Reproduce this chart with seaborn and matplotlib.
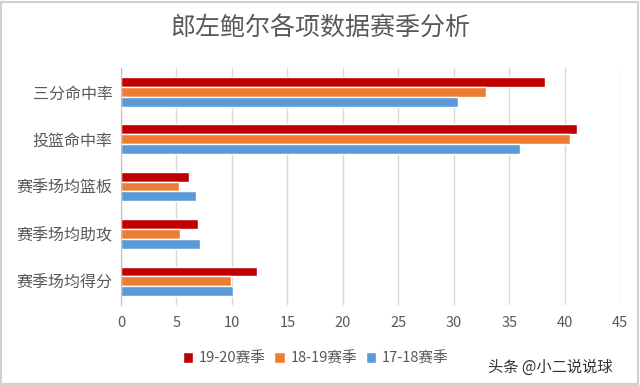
import matplotlib
matplotlib.use('Agg')
import matplotlib.pyplot as plt
import seaborn as sns
import pandas as pd
from matplotlib.patches import Rectangle

categories = ['三分命中率', '投篮命中率', '赛季场均篮板', '赛季场均助攻', '赛季场均得分']
seasons = ['19-20赛季', '18-19赛季', '17-18赛季']
s1920 = [38.2, 41.1, 6.1, 6.9, 12.3]
s1819 = [32.9, 40.5, 5.2, 5.3, 9.9]
s1718 = [30.4, 36.0, 6.8, 7.1, 10.1]
colors = ['#C00000', '#ED7D31', '#5B9BD5']
xticks = [0, 5, 10, 15, 20, 25, 30, 35, 40, 45]

rows = []
for season, vals in zip(seasons, [s1920, s1819, s1718]):
    for cat, v in zip(categories, vals):
        rows.append({'cat': cat, 'season': season, 'value': v})
df = pd.DataFrame(rows)

sns.set_style('white')
plt.rcParams['font.family'] = ['Noto Sans CJK SC', 'DejaVu Sans']

fig = plt.figure(figsize=(6.4, 3.85), dpi=100)
ax = fig.add_axes([0.189, 0.208, 0.78, 0.615])

sns.barplot(data=df, x='value', y='cat', hue='season', order=categories,
            hue_order=seasons, palette=colors, saturation=1, orient='h',
            width=0.62, gap=0, ax=ax, legend=True)

ax.set_xlim(0, 45)
ax.set_xticks(xticks)
ax.xaxis.grid(True, color='#D9D9D9', linewidth=1)
ax.set_axisbelow(True)
for s in ['top', 'right', 'bottom']:
    ax.spines[s].set_visible(False)
ax.spines['left'].set_color('#BFBFBF')
ax.set_xlabel('')
ax.set_ylabel('')
ax.tick_params(axis='both', length=0, colors='#595959')
ax.tick_params(axis='x', pad=8, labelsize=10.5)
ax.tick_params(axis='y', pad=6, labelsize=11.5)

ax.legend(loc='upper center', bbox_to_anchor=(0.39, -0.14), ncol=3, frameon=False,
          fontsize=10.5, handlelength=0.7, handleheight=0.7, columnspacing=0.6,
          handletextpad=0.4, labelcolor='#595959')

fig.text(0.5, 0.925, '郎左鲍尔各项数据赛季分析', ha='center', va='center',
         fontsize=18, color='#595959')
fig.text(0.958, 0.045, '头条 @小二说说球', ha='right', va='center',
         fontsize=11, color='#333333')
fig.patches.append(Rectangle((0.002, 0.003), 0.995, 0.993, transform=fig.transFigure,
                             fill=False, edgecolor='#D0D0D0', linewidth=1.5))

fig.savefig('out.png', dpi=100)
